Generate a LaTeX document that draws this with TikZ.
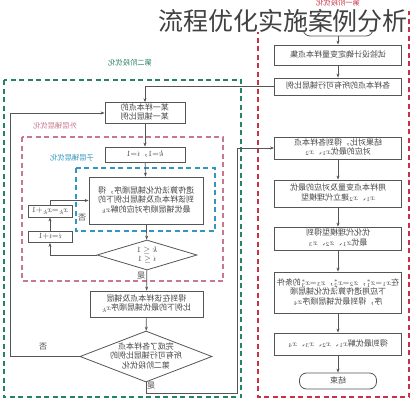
\documentclass[tikz,border=0pt]{standalone}
\usepackage{fontspec}
\setmainfont{Noto Sans CJK SC}
\usepackage{graphicx}
\usetikzlibrary{arrows.meta,shapes.geometric,calc}
\definecolor{redc}{RGB}{200,50,70}
\definecolor{greenc}{RGB}{40,130,100}
\definecolor{pinkc}{RGB}{200,120,140}
\definecolor{bluec}{RGB}{50,150,190}
\definecolor{boxc}{RGB}{85,85,85}
\definecolor{txtc}{RGB}{70,70,70}
\definecolor{titlec}{RGB}{65,65,65}
\newcommand\mtx[1]{\reflectbox{\renewcommand\arraystretch{0.95}\begin{tabular}{@{}c@{}}#1\end{tabular}}}
\begin{document}
\begin{tikzpicture}[x=1pt,y=-1pt,
  box/.style={draw=boxc,line width=0.8pt,fill=white,inner sep=1pt,text=txtc,font=\fontsize{8}{9.5}\selectfont},
  term/.style={box,rounded corners=7pt},
  dia/.style={diamond,draw=boxc,line width=0.8pt,fill=white,inner sep=0pt},
  dtext/.style={inner sep=0pt,text=txtc,font=\fontsize{8}{9.5}\selectfont},
  flow/.style={draw=boxc,line width=0.7pt,-{Stealth[length=4pt,width=3pt]}},
  zone/.style={line width=1.1pt,dash pattern=on 5pt off 3.5pt},
  zlabel/.style={inner sep=0pt,font=\fontsize{7.3}{8}\selectfont},
  ylabel/.style={inner sep=0pt,text=txtc,font=\fontsize{8}{9}\selectfont}]
\useasboundingbox (0,0) rectangle (413,400);
\fill[white] (0,0) rectangle (413,400);
% zones
\draw[zone,draw=redc] (258,12) rectangle (409,397);
\draw[zone,draw=greenc] (4,80) rectangle (241,397);
\draw[zone,draw=pinkc] (22,137) rectangle (223,281);
\draw[zone,draw=bluec] (76,168) rectangle (215,231);
\node[zlabel,text=redc] (lr) at (338,4) {\mtx{第一阶段优化}};
\node[zlabel,text=greenc] (lg) at (130,64) {\mtx{第二阶段优化}};
\node[zlabel,text=pinkc] (lp) at (55,127) {\mtx{外层铺层优化}};
\node[zlabel,text=bluec] (lb) at (72,159) {\mtx{子层铺层优化}};
% right column
\node[term,minimum width=70pt,minimum height=14pt] (start) at (338,29) {\mtx{开始}};
\node[box,minimum width=127pt,minimum height=20pt] (b1) at (338,55) {\mtx{试验设计确定变量样本点集}};
\node[box,minimum width=127pt,minimum height=17pt] (b2) at (338,86.5) {\mtx{各样本点的所有可行铺层比例}};
\node[box,minimum width=127pt,minimum height=22pt] (b3) at (338,148) {\mtx{结果对比，得到各样本点\\对应的最优$x_1$、$x_2$}};
\node[box,minimum width=127pt,minimum height=27pt] (b4) at (338,193.5) {\mtx{用样本点变量及对应的最优\\$x_1$、$x_2$建立代理模型}};
\node[box,minimum width=127pt,minimum height=23pt] (b5) at (338,238.5) {\mtx{优化代理模型得到\\最优$x_1$、$x_2$、$x_3$}};
\node[box,minimum width=127pt,minimum height=41pt] (b6) at (338,292.5) {\mtx{在$x_1{=}x_1^*$，$x_2{=}x_2^*$，$x_3{=}x_3^*$的条件\\下应用遗传算法优化铺层顺\\序，得到最优铺层顺序$x_4$}};
\node[box,minimum width=127pt,minimum height=22pt] (b7) at (338,344) {\mtx{得到最优解$x_1$、$x_2$、$x_3$、$x_4$}};
\node[term,minimum width=77pt,minimum height=16pt] (end) at (338,381) {\mtx{结束}};
% title
\node[anchor=base,fill=white,inner sep=0pt,text height=20pt,text depth=2pt,text=titlec,font=\fontsize{25}{25}\selectfont] (title) at (283,30) {流程优化实施案例分析};
% left column
\node[box,minimum width=80pt,minimum height=20pt] (l1) at (145,113) {\mtx{某一样本点的\\某一铺层比例}};
\node[box,minimum width=80pt,minimum height=15pt] (l2) at (145,154.5) {\mtx{$k{=}1$，$i{=}1$}};
\node[box,minimum width=114pt,minimum height=47pt] (l3) at (146,200.5) {\mtx{遗传算法优化铺层顺序，得\\到该样本点及铺层比例下的\\最优铺层顺序对应的解$x_k$}};
\node[box,minimum width=44pt,minimum height=12pt] (kk) at (50,211) {\mtx{$x_k{=}x_k{+}1$}};
\node[box,minimum width=44pt,minimum height=10pt] (ii) at (50,237) {\mtx{$i{=}i{+}1$}};
\node[dia,minimum width=100pt,minimum height=30pt] (d1) at (147,255) {};
\node[dtext] (d1t) at (d1.center) {\mtx{$k\le1$\\$i\le1$}};
\node[box,minimum width=113pt,minimum height=26pt] (l4) at (146.5,304) {\mtx{得到在该样本点及铺层\\比例下的最优铺层顺序$x_k$}};
\node[dia,minimum width=132pt,minimum height=51pt] (d2) at (146,356.5) {};
\node[dtext] (d2t) at (d2.center) {\mtx{完成了各样本点\\所有可行铺层比例的\\第二阶段优化}};
% labels
\node[ylabel] (n1) at (82,218) {\reflectbox{否}};
\node[ylabel] (y1) at (141,276) {\reflectbox{是}};
\node[ylabel] (n2) at (43,347) {\reflectbox{否}};
\node[ylabel] (y2) at (151,386) {\reflectbox{是}};
% right flow
\draw[flow] (start) -- (b1);
\draw[flow] (b1) -- (b2);
\draw[flow] (b3) -- (b4);
\draw[flow] (b4) -- (b5);
\draw[flow] (b5) -- (b6);
\draw[flow] (b6) -- (b7);
\draw[flow] (b7) -- (end);
% cross flows
\draw[flow] (b2.west) -| (l1.north);
\draw[flow] (l1) -- (l2);
\draw[flow] (l2) -- (l3);
\draw[flow] (l3) -- (d1);
\draw[flow] (d1) -- (l4);
\draw[flow] (l4) -- (d2);
\draw[flow] (d1.west) -| (ii.south);
\draw[flow] (ii) -- (kk);
\draw[flow] (kk.north) |- (l3.west);
\draw[flow] (d2.west) -- ++(-69,0) |- (l1.west);
\draw[flow] (d2.south) -- ++(0,10.5) -- ++(91,0) |- (b3.west);
\end{tikzpicture}
\end{document}
